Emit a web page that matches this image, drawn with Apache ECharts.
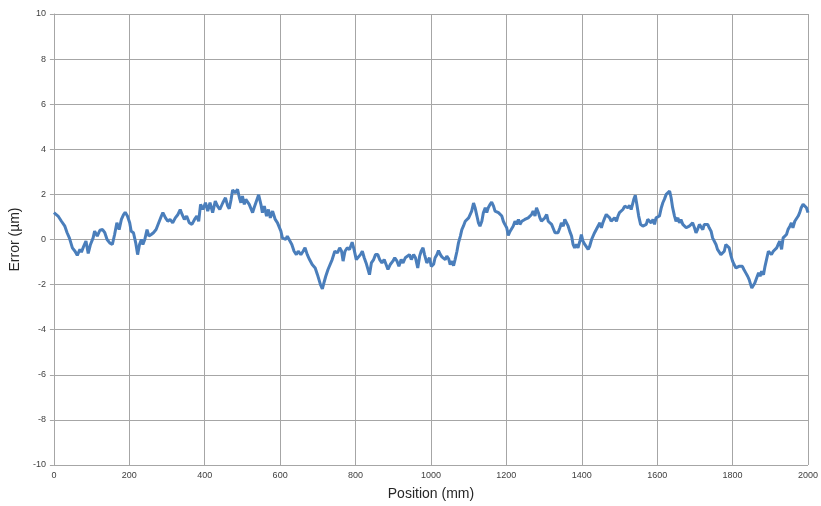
<!DOCTYPE html>
<html>
<head>
<meta charset="utf-8">
<script src="https://cdn.jsdelivr.net/npm/echarts@6/dist/echarts.min.js"></script>
<style>
html,body{margin:0;padding:0;background:#fff;}
#chart{width:821px;height:506px;}
</style>
</head>
<body>
<div id="chart"></div>
<script>
// Position along axis (mm)
var positions = [
0,5,11,16,20,29,35,41,44,49,56,62,69,73,79,85,91,97,104,108,115,122,129,135,141,148,155,161,167,173,179,185,189,195,201,205,211,217,222,227,232,236,241,247,252,258,264,271,278,285,289,296,302,308,315,322,329,335,340,346,352,359,366,373,379,384,389,395,402,408,414,421,428,434,440,448,455,461,465,470,474,481,
483,487,492,496,500,505,509,514,518,522,527,531,537,543,549,553,558,564,569,574,580,587,593,597,602,606,611,615,619,626,631,637,643,648,655,661,666,672,678,685,693,699,703,707,712,716,721,727,732,738,745,752,758,763,767,772,778,784,791,796,802,807,813,818,823,828,833,837,842,848,853,859,864,870,876,881,886,892,899,904,910,915,921,926,932,937,943,948,954,959,965,970,974,979,983,989,996,1001,1007,
1011,1016,1020,1025,1029,1033,1038,1042,1047,1051,1056,1060,1064,1069,1073,1078,1082,1086,1091,1095,1100,1104,1108,1113,1117,1122,1126,1130,1135,1139,1144,1148,1152,1157,1161,1166,1170,1174,1179,1183,1188,1192,1196,1201,1205,1210,1214,1218,1223,1227,1232,1236,1241,1245,1249,1254,1258,1263,1267,1271,1276,1280,1285,1289,1293,1298,1302,1307,1311,1315,1320,1324,1329,1333,1337,1342,1346,1351,1355,1359,1364,1368,1373,1377,1381,1386,1390,1395,1399,1403,1408,1412,1417,1421,1426,1430,1434,1439,1443,1448,1452,1456,1461,1465,1470,1474,1478,1483,
1487,1492,1496,1500,1505,1509,1514,1518,1522,1527,1531,1536,1538,1542,1546,1551,1556,1562,1567,1571,1575,1580,1584,1589,1593,1597,1602,1606,1611,1615,1619,1624,1628,1633,1637,1641,1646,1650,1655,1659,1663,1668,1672,1677,1681,1685,1690,1694,1699,1703,1707,1712,1716,1721,1725,1730,1734,1738,1743,1747,1752,1756,1760,1765,1769,1774,1778,1782,1787,1791,1796,1800,1804,1809,1813,1817,1822,1826,1830,1835,1840,1844,1848,1851,1855,1859,1864,1869,1873,1877,1882,1886,1890,1895,1899,1903,1908,1913,1917,1921,1925,1930,1934,1938,1943,1947,1952,1956,1960,1965,1969,1974,1978,1982,1987,1991,1996,2000
];
// Error (µm)
var errors = [
1.19,1.26,1.04,0.96,0.81,0.59,0.30,0.07,0.04,-0.37,-0.52,-0.70,-0.44,-0.56,-0.30,-0.07,-0.62,-0.22,0.07,0.37,0.15,0.41,0.44,0.30,0.00,-0.15,-0.22,0.22,0.74,0.44,0.89,1.11,1.21,1.04,0.74,0.37,0.30,-0.15,-0.67,-0.22,0.00,-0.22,0.00,0.44,0.15,0.22,0.30,0.44,0.74,1.04,1.19,0.96,0.81,0.89,0.74,0.96,1.11,1.33,1.11,0.89,1.04,0.74,0.67,0.89,1.04,0.81,1.56,1.33,1.63,1.26,1.63,1.19,1.70,1.48,1.33,1.63,1.85,1.48,1.36,1.78,2.19,2.07,
2.15,2.22,1.85,1.63,1.93,1.56,1.78,1.70,1.56,1.48,1.19,1.41,1.70,1.98,1.56,1.19,1.48,1.04,1.33,0.96,1.26,0.89,0.74,0.81,0.37,0.07,0.15,0.00,0.15,-0.07,-0.22,-0.52,-0.67,-0.52,-0.67,-0.52,-0.37,-0.67,-0.89,-1.11,-1.26,-1.56,-1.78,-2.00,-2.19,-1.93,-1.63,-1.33,-1.26,-0.89,-0.52,-0.59,-0.37,-0.52,-0.96,-0.52,-0.37,-0.44,-0.12,-0.44,-0.89,-0.96,-0.67,-0.52,-0.81,-1.04,-1.11,-1.56,-1.04,-0.89,-0.67,-0.67,-0.89,-1.04,-0.89,-1.11,-1.33,-1.11,-0.96,-0.81,-0.96,-1.19,-0.89,-1.04,-0.81,-0.89,-0.67,-0.89,-0.67,-0.81,-1.26,-0.74,-0.52,-0.37,-0.67,-1.04,-0.81,-1.20,-1.10,
-0.81,-0.67,-0.49,-0.67,-0.77,-0.71,-0.89,-0.74,-0.86,-1.11,-0.96,-1.16,-0.89,-0.52,-0.15,0.15,0.44,0.59,0.81,0.89,0.96,1.04,1.26,1.62,1.41,1.04,0.74,0.59,0.81,1.19,1.41,1.19,1.41,1.56,1.66,1.48,1.26,1.26,1.19,1.11,1.04,0.81,0.67,0.52,0.18,0.37,0.44,0.59,0.81,0.67,0.89,0.67,0.81,0.74,0.89,0.81,0.96,0.89,1.11,1.26,1.04,1.41,1.19,0.96,0.81,0.89,0.96,1.11,0.81,0.74,0.67,0.59,0.30,0.37,0.30,0.52,0.74,0.59,0.89,0.96,0.59,0.37,0.15,-0.22,-0.37,-0.22,-0.37,-0.07,0.22,-0.07,-0.22,-0.15,-0.44,-0.30,0.00,0.07,0.30,0.37,0.59,0.74,0.52,0.74,0.96,1.11,1.19,0.96,0.81,0.89,0.96,
0.81,1.04,1.19,1.11,1.33,1.48,1.56,1.41,1.51,1.33,1.26,1.78,1.96,1.56,1.04,0.67,0.59,0.59,0.67,0.89,0.96,0.74,0.89,0.67,0.96,0.89,1.04,1.41,1.63,1.78,2.00,2.07,2.15,1.85,1.41,1.04,0.81,0.96,0.74,0.89,0.67,0.59,0.52,0.44,0.59,0.52,0.74,0.52,0.30,0.44,0.67,0.59,0.44,0.67,0.74,0.67,0.52,0.37,0.07,0.00,-0.22,-0.44,-0.52,-0.67,-0.74,-0.52,-0.22,-0.30,-0.37,-0.74,-0.96,-1.11,-1.26,-1.33,-1.19,-1.11,-1.19,-1.33,-1.48,-1.63,-1.78,-2.00,-2.15,-2.22,-1.93,-1.70,-1.48,-1.63,-1.41,-1.56,-1.19,-0.89,-0.52,-0.44,-0.67,-0.52,-0.44,-0.37,-0.22,-0.07,-0.44,0.07,0.15,0.22,0.44,0.59,0.74,0.52,0.81,0.89,1.04,1.19,1.41,1.56,1.60,1.41,1.19,1.07
];
var xTicks = {min: 0, max: 2000, step: 200};
var yTicks = {min: -10, max: 10, step: 2};

var data = positions.map(function (p, i) { return [p, errors[i]]; });

var chart = echarts.init(document.getElementById('chart'), null, {renderer: 'canvas'});
var gridColor = '#a6a6a6';
var labelStyle = {color: '#404040', fontSize: 9, fontFamily: 'Liberation Sans, Arial, sans-serif'};
chart.setOption({
  animation: false,
  backgroundColor: '#ffffff',
  grid: {left: 51.5, right: 12.7, top: 14, bottom: 39.3, containLabel: false},
  xAxis: {
    type: 'value', min: xTicks.min, max: xTicks.max, interval: xTicks.step,
    name: 'Position (mm)', nameLocation: 'middle', nameGap: 22,
    nameTextStyle: {color: '#262626', fontSize: 14, fontFamily: 'Liberation Sans, Arial, sans-serif'},
    axisLine: {show: true, lineStyle: {color: gridColor, width: 1}},
    axisTick: {show: true, length: 4, lineStyle: {color: gridColor}},
    axisLabel: Object.assign({margin: 6, formatter: function (v) { return String(v); }}, labelStyle),
    splitLine: {show: true, lineStyle: {color: gridColor, width: 1}}
  },
  yAxis: {
    type: 'value', min: yTicks.min, max: yTicks.max, interval: yTicks.step,
    name: 'Error (µm)', nameLocation: 'middle', nameGap: 27,
    nameTextStyle: {color: '#262626', fontSize: 14, fontFamily: 'Liberation Sans, Arial, sans-serif'},
    axisLine: {show: true, lineStyle: {color: gridColor, width: 1}},
    axisTick: {show: true, length: 4, lineStyle: {color: gridColor}},
    axisLabel: Object.assign({margin: 8, formatter: function (v) { return String(v); }}, labelStyle),
    splitLine: {show: true, lineStyle: {color: gridColor, width: 1}}
  },
  series: [{
    type: 'line',
    data: data,
    showSymbol: false,
    symbol: 'none',
    smooth: false,
    lineStyle: {color: '#4A7EBB', width: 3},
    itemStyle: {color: '#4A7EBB'}
  }]
});
</script>
</body>
</html>
